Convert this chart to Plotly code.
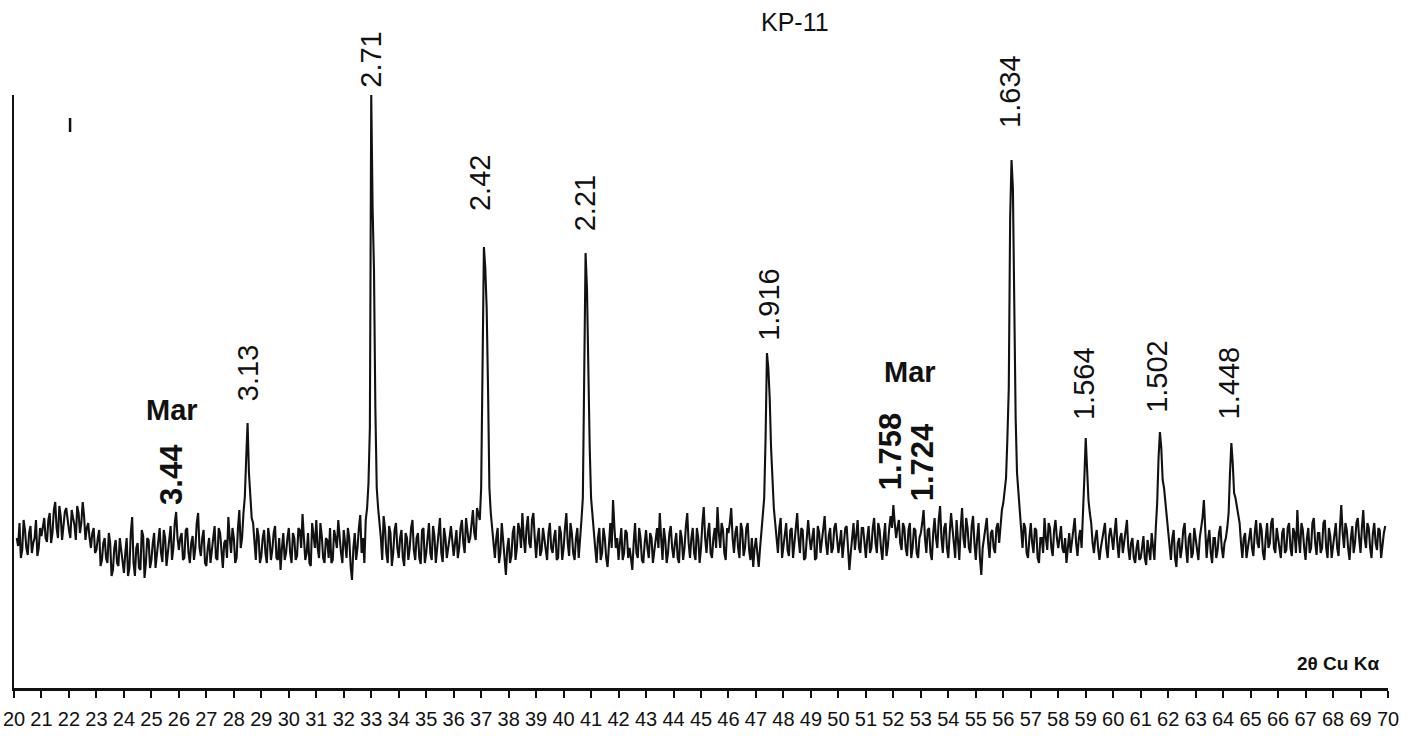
import numpy as np
import plotly.graph_objects as go

# ---------------- data ----------------
# 2-theta sampling grid on whole tenths: 20.1 .. 69.9 deg
two_theta = np.round(np.arange(201, 700) / 10.0, 1)
# readings between those, on x.x5: 20.15 .. 69.85 deg
two_theta_half = np.round(np.arange(2015, 6990, 10) / 100.0, 2)

# relative intensity (arbitrary units) on whole tenths, one row per degree
intensity = [
    150, 165, 138, 158, 133, 162, 145, 168, 140,            # 20.1-20.9
    152, 170, 146, 175, 155, 186, 150, 172, 160, 180,       # 21
    158, 178, 163, 182, 155, 186, 148, 165, 140, 160,       # 22
    138, 158, 128, 150, 125, 145, 118, 148, 122, 140,       # 23
    115, 150, 120, 171, 112, 145, 118, 152, 125, 148,       # 24
    128, 155, 132, 160, 126, 150, 135, 162, 140, 176,       # 25
    138, 155, 130, 160, 125, 152, 140, 175, 132, 158,       # 26
    122, 150, 135, 162, 128, 155, 120, 148, 171, 135,       # 27
    150, 130, 178, 150, 191, 265, 188, 165, 128, 152,       # 28
    132, 158, 125, 150, 138, 162, 128, 118, 155, 135,       # 29
    160, 125, 150, 132, 158, 174, 128, 155, 122, 150,       # 30
    168, 130, 152, 125, 148, 160, 128, 150, 168, 135,       # 31
    158, 130, 150, 108, 155, 140, 173, 150, 168, 205,       # 32
    593, 418, 200, 168, 128, 160, 125, 155, 135, 165,       # 33
    130, 158, 122, 150, 140, 168, 128, 155, 124, 160,       # 34
    135, 165, 128, 152, 140, 170, 126, 150, 138, 162,       # 35
    132, 158, 140, 168, 135, 160, 150, 178, 148, 175,       # 36
    200, 441, 380, 200, 158, 130, 160, 135, 150, 113,       # 37
    150, 132, 162, 140, 158, 175, 135, 172, 140, 175,       # 38
    130, 160, 138, 150, 128, 165, 135, 158, 130, 155,       # 39
    140, 175, 132, 155, 128, 160, 145, 190, 435, 298,       # 40
    190, 155, 125, 160, 135, 150, 121, 165, 188, 140,       # 41
    128, 160, 135, 155, 140, 118, 165, 130, 150, 125,       # 42
    158, 130, 150, 138, 160, 175, 128, 148, 135, 162,       # 43
    130, 155, 125, 150, 140, 175, 130, 160, 128, 150,       # 44
    140, 181, 135, 165, 130, 160, 181, 140, 158, 128,       # 45
    155, 180, 135, 162, 130, 158, 140, 165, 128, 121,       # 46
    150, 121, 158, 190, 335, 290, 200, 165, 135, 170,       # 47
    140, 165, 132, 160, 145, 175, 135, 158, 130, 168,       # 48
    138, 160, 130, 155, 148, 172, 133, 160, 140, 165,       # 49
    135, 158, 142, 162, 118, 155, 138, 168, 135, 160,       # 50
    130, 162, 140, 170, 135, 158, 128, 165, 142, 172,       # 51
    183, 150, 168, 138, 160, 132, 165, 140, 158, 130,       # 52
    155, 178, 135, 160, 128, 170, 140, 182, 135, 165,       # 53
    130, 175, 145, 168, 128, 180, 140, 160, 135, 172,       # 54
    128, 165, 113, 150, 170, 130, 158, 135, 165, 165,       # 55
    185, 210, 300, 528, 345, 215, 178, 140, 160, 130,       # 56
    165, 135, 158, 125, 150, 170, 138, 160, 132, 168,       # 57
    140, 162, 135, 125, 155, 145, 170, 132, 158, 170,       # 58
    250, 188, 165, 135, 158, 128, 150, 165, 130, 160,       # 59
    138, 170, 130, 155, 145, 168, 128, 150, 125, 148,       # 60
    130, 152, 123, 140, 155, 128, 185, 256, 208, 185,       # 61
    160, 128, 158, 121, 150, 140, 165, 125, 155, 135,       # 62
    150, 128, 160, 188, 130, 158, 125, 150, 138, 162,       # 63
    130, 150, 175, 245, 195, 180, 165, 130, 155, 140,       # 64
    160, 132, 168, 140, 158, 128, 165, 145, 170, 135,       # 65
    150, 130, 160, 138, 165, 132, 155, 178, 135, 158,       # 66
    128, 160, 140, 170, 133, 155, 140, 168, 130, 152,       # 67
    140, 165, 132, 183, 140, 158, 128, 162, 145, 170,       # 68
    135, 178, 140, 160, 130, 165, 138, 158, 145, 162,       # 69
]

# relative intensity on the x.x5 positions, one row per degree
intensity_half = [
    142, 130, 168, 140, 155, 135, 150, 132, 160,            # 20.15-20.95
    160, 150, 168, 145, 178, 160, 182, 148, 176, 165,       # 21
    150, 170, 148, 175, 165, 172, 160, 150, 155, 135,       # 22
    150, 122, 145, 130, 155, 112, 140, 125, 150, 130,       # 23
    135, 112, 155, 125, 140, 120, 158, 110, 150, 120,       # 24
    145, 120, 150, 135, 158, 122, 150, 128, 165, 150,       # 25
    150, 128, 158, 135, 145, 128, 165, 140, 150, 125,       # 26
    140, 125, 150, 130, 160, 132, 145, 130, 150, 160,       # 27
    125, 160, 140, 175, 230, 215, 170, 140, 160, 125,       # 28
    150, 135, 160, 128, 155, 130, 150, 140, 128, 150,       # 29
    135, 155, 128, 160, 140, 150, 135, 125, 165, 140,       # 30
    140, 165, 130, 150, 130, 125, 158, 140, 150, 125,       # 31
    145, 160, 122, 140, 128, 160, 135, 125, 180, 260,       # 32
    480, 280, 180, 150, 172, 135, 162, 122, 158, 140,       # 33
    150, 130, 155, 128, 160, 138, 150, 130, 158, 125,       # 34
    150, 135, 162, 125, 158, 135, 160, 130, 150, 145,       # 35
    145, 130, 160, 145, 170, 145, 168, 155, 180, 168,       # 36
    300, 420, 300, 175, 140, 150, 125, 165, 130, 140,       # 37
    125, 155, 128, 165, 140, 150, 160, 145, 168, 150,       # 38
    150, 132, 160, 140, 155, 140, 150, 128, 162, 128,       # 39
    160, 145, 165, 135, 150, 130, 168, 300, 400, 240,       # 40
    170, 140, 150, 128, 160, 130, 150, 140, 160, 150,       # 41
    145, 128, 158, 130, 130, 145, 135, 160, 128, 145,       # 42
    140, 155, 125, 150, 140, 150, 160, 125, 155, 140,       # 43
    145, 130, 158, 128, 162, 145, 150, 135, 160, 125,       # 44
    165, 150, 155, 135, 150, 140, 155, 165, 135, 160,       # 45
    165, 150, 155, 140, 165, 132, 160, 138, 150, 140,       # 46
    135, 140, 170, 250, 320, 240, 180, 150, 160, 130,       # 47
    155, 138, 158, 130, 165, 150, 160, 128, 150, 150,       # 48
    150, 128, 162, 135, 160, 145, 152, 135, 160, 150,       # 49
    145, 130, 160, 140, 135, 165, 150, 140, 160, 145,       # 50
    150, 135, 160, 145, 165, 140, 150, 132, 160, 160,       # 51
    165, 160, 145, 165, 140, 158, 130, 160, 135, 150,       # 52
    165, 150, 158, 135, 155, 150, 168, 150, 160, 140,       # 53
    155, 160, 130, 150, 160, 150, 170, 140, 162, 145,       # 54
    150, 130, 140, 165, 145, 155, 140, 160, 145, 178,       # 55
    195, 250, 470, 500, 270, 195, 158, 165, 135, 150,       # 56
    145, 160, 130, 150, 135, 150, 165, 140, 158, 150,       # 57
    150, 140, 150, 140, 135, 160, 145, 150, 140, 210,       # 58
    215, 175, 145, 150, 140, 140, 155, 140, 152, 150,       # 59
    155, 145, 150, 135, 160, 140, 145, 130, 140, 128,       # 60
    140, 130, 148, 128, 140, 160, 230, 240, 200, 170,       # 61
    140, 150, 130, 145, 130, 158, 140, 150, 130, 160,       # 62
    135, 150, 170, 150, 148, 135, 150, 130, 155, 140,       # 63
    145, 160, 215, 225, 190, 172, 145, 150, 130, 150,       # 64
    140, 155, 145, 165, 135, 150, 140, 165, 140, 160,       # 65
    140, 155, 135, 160, 140, 160, 135, 150, 165, 140,       # 66
    150, 135, 165, 145, 155, 135, 165, 140, 160, 130,       # 67
    150, 140, 160, 155, 165, 140, 150, 135, 165, 150,       # 68
    160, 150, 165, 140, 155, 145, 160, 130, 155,            # 69.05-69.85
]

# d-spacing labels: text, x position (2theta), bottom of label (intensity), bold
peak_labels = ["3.44", "3.13", "2.71", "2.42", "2.21", "1.916",
               "1.758", "1.724", "1.634", "1.564", "1.502", "1.448"]
label_x = [25.73, 28.52, 32.98, 36.96, 40.79, 47.45,
           51.89, 53.09, 56.26, 58.92, 61.57, 64.21]
label_y = [181, 285, 598, 475, 455, 345,
           196, 185, 558, 266, 273, 267]
label_bold = [True, False, False, False, False, False,
              True, True, False, False, False, False]

mineral_labels = ["Mar", "Mar"]
mineral_x = [25.75, 52.6]
mineral_y = [278, 316]

title_text = "KP-11"
axis_note = "2θ Cu Kα"
x_ticks = list(range(20, 71))

Y_MAX = 593

# ---------------- merge the two sets of readings ----------------
n1 = min(len(two_theta), len(intensity))
n2 = min(len(two_theta_half), len(intensity_half))
xs = np.concatenate([two_theta[:n1], two_theta_half[:n2]])
ys = np.concatenate([np.array(intensity[:n1], float), np.array(intensity_half[:n2], float)])
order = np.argsort(xs, kind="stable")
xs, ys = xs[order], ys[order]

# ---------------- figure ----------------
fig = go.Figure()
fig.add_trace(go.Scatter(
    x=xs, y=ys, mode="lines",
    line=dict(color="#111111", width=2.1), hoverinfo="skip", showlegend=False,
))

FONT = "Liberation Sans, Arial, Helvetica, sans-serif"
ann = []
for t, x, y, b in zip(peak_labels, label_x, label_y, label_bold):
    ann.append(dict(
        x=x, y=y / Y_MAX, xref="x", yref="paper", text=f"<b>{t}</b>" if b else t,
        showarrow=False, textangle=-90, xanchor="center", yanchor="bottom",
        font=dict(family=FONT, size=31 if b else 29, color="#111111"),
    ))
for t, x, y in zip(mineral_labels, mineral_x, mineral_y):
    ann.append(dict(
        x=x, y=y / Y_MAX, xref="x", yref="paper", text=f"<b>{t}</b>", showarrow=False,
        xanchor="center", yanchor="middle",
        font=dict(family=FONT, size=29, color="#111111"),
    ))
ann.append(dict(x=48.43, y=666 / Y_MAX, xref="x", yref="paper", text=title_text,
                showarrow=False, xanchor="center", yanchor="middle",
                font=dict(family=FONT, size=25, color="#111111")))
ann.append(dict(x=69.75, y=25 / Y_MAX, xref="x", yref="paper", text=f"<b>{axis_note}</b>",
                showarrow=False, xanchor="right", yanchor="middle",
                font=dict(family=FONT, size=19, color="#111111")))

fig.update_layout(
    width=1407, height=736,
    margin=dict(l=14, r=19, t=95, b=48, pad=0, autoexpand=False),
    paper_bgcolor="white", plot_bgcolor="white",
    annotations=ann,
    shapes=[dict(type="line", xref="x", yref="y", x0=22.04, x1=22.04,
                 y0=556, y1=570, line=dict(color="#111111", width=2.5))],
    xaxis=dict(
        range=[20, 70], tickmode="array", tickvals=x_ticks,
        ticktext=[str(v) for v in x_ticks], automargin=False,
        ticks="outside", ticklen=7, tickwidth=1.5, tickcolor="#111111",
        showline=True, linecolor="#111111", linewidth=2.5,
        showgrid=False, zeroline=False, ticklabelstandoff=4,
        tickfont=dict(family=FONT, size=20, color="#111111"),
    ),
    yaxis=dict(
        range=[0, Y_MAX], showline=True, linecolor="#111111", linewidth=1.5,
        showgrid=False, zeroline=False, showticklabels=False, ticks="",
        automargin=False,
    ),
)

fig.write_html("out.html", config={"displayModeBar": False},
               post_script="document.body.style.margin='0';document.body.style.overflow='hidden';")
